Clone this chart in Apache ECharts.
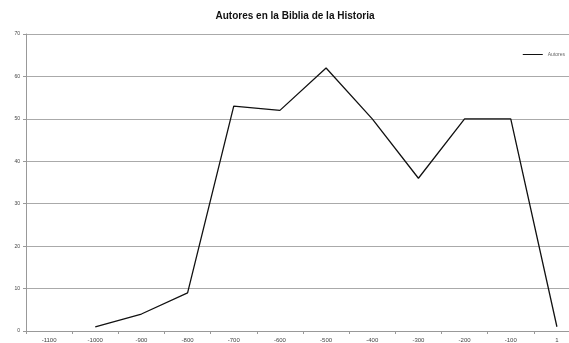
<!DOCTYPE html>
<html>
<head>
<meta charset="utf-8">
<script src="https://cdn.jsdelivr.net/npm/echarts@6/dist/echarts.min.js"></script>
<style>
  html, body { margin: 0; padding: 0; background: #fff; overflow: hidden; }
  #chart { width: 590px; height: 343px; }
</style>
</head>
<body>
<div id="chart"></div>
<script>
// Number of authors per period
const categories = ['-1100', '-1000', '-900', '-800', '-700', '-600', '-500', '-400', '-300', '-200', '-100', '1'];
const autores = [null, 1, 4, 9, 53, 52, 62, 50, 36, 50, 50, 1];
const yTicks = [0, 10, 20, 30, 40, 50, 60, 70];

const chart = echarts.init(document.getElementById('chart'), null, { renderer: 'canvas' });
chart.setOption({
  animation: false,
  backgroundColor: '#ffffff',
  title: {
    text: 'Autores en la Biblia de la Historia',
    left: 'center',
    top: 6,
    textStyle: { fontFamily: 'Arial, Liberation Sans', fontSize: 10, fontWeight: 'bold', color: '#111' }
  },
  legend: {
    right: 20,
    top: 47,
    itemWidth: 20,
    itemHeight: 4,
    itemGap: 4,
    icon: 'path://M0,0 L20,0 L20,1 L0,1 Z',
    textStyle: { fontFamily: 'Arial, Liberation Sans', fontSize: 5, color: '#666' },
    data: ['Autores']
  },
  grid: { left: 26, width: 554, top: 34, height: 299, containLabel: false },
  xAxis: {
    type: 'category',
    data: categories,
    boundaryGap: true,
    axisLine: { lineStyle: { color: '#999', width: 1 } },
    axisTick: { show: true, length: 3, lineStyle: { color: '#999' } },
    axisLabel: { fontFamily: 'Arial, Liberation Sans', fontSize: 6, color: '#444', margin: 6 },
    splitLine: { show: false }
  },
  yAxis: {
    type: 'value',
    min: yTicks[0],
    max: yTicks[yTicks.length - 1],
    interval: 10,
    axisLine: { show: true, lineStyle: { color: '#999', width: 1 } },
    axisTick: { show: true, length: 3, lineStyle: { color: '#999' } },
    axisLabel: { fontFamily: 'Arial, Liberation Sans', fontSize: 5, color: '#444', margin: 6 },
    splitLine: { show: true, lineStyle: { color: '#aaa', width: 1 } }
  },
  series: [{
    name: 'Autores',
    type: 'line',
    data: autores,
    showSymbol: false,
    symbol: 'none',
    connectNulls: false,
    lineStyle: { color: '#111', width: 1.3 },
    itemStyle: { color: '#111' }
  }]
});
</script>
</body>
</html>
